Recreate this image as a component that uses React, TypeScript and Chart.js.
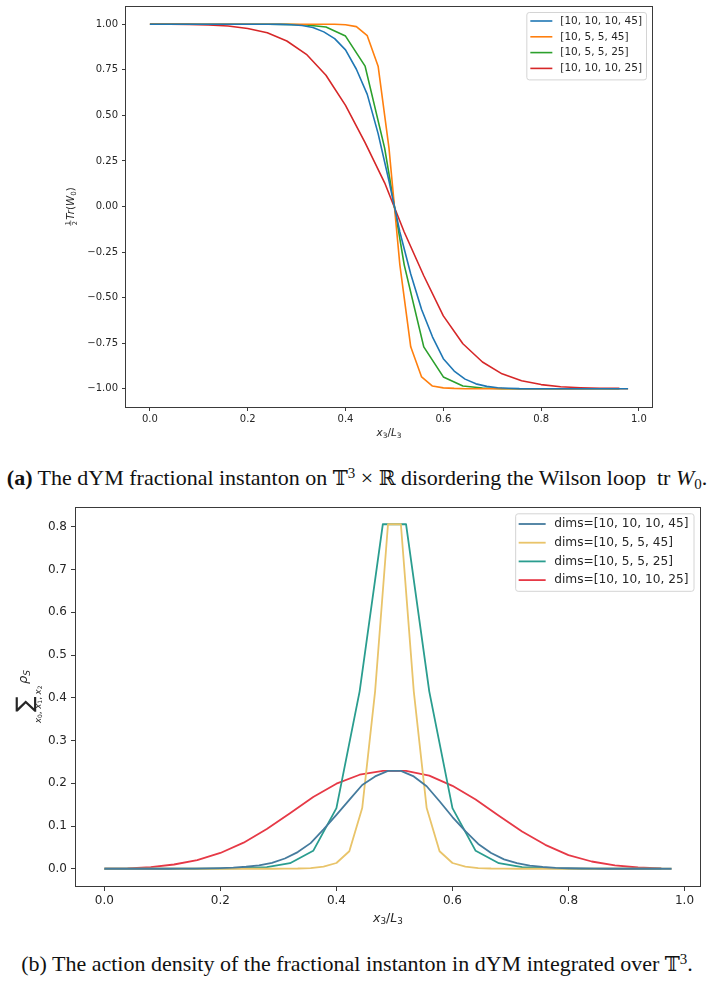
import React, { useEffect, useRef } from 'react';
import { Chart, registerables } from 'chart.js';

Chart.register(...registerables);

// ---------------- Panel (a): 1/2 Tr(W0) along x3/L3 ----------------
const labelsA = ['[10, 10, 10, 45]', '[10, 5, 5, 45]', '[10, 5, 5, 25]', '[10, 10, 10, 25]'];
const colorsA = ['#1f77b4', '#ff7f0e', '#2ca02c', '#d62728'];
const latticeL3A = [45, 45, 25, 25];

const wilson_10_10_10_45 = [
  1, 1, 1, 1, 1, 1, 1, 1, 1, 1,
  0.9998, 0.9995, 0.999, 0.997, 0.993, 0.982, 0.958, 0.921, 0.859, 0.753,
  0.615, 0.4, 0.14, -0.14, -0.37, -0.565, -0.715, -0.835, -0.903, -0.947,
  -0.973, -0.987, -0.994, -0.997, -0.999, -0.9995, -1, -1, -1, -1,
  -1, -1, -1, -1, -1,
];
const wilson_10_5_5_45 = [
  1, 1, 1, 1, 1, 1, 1, 1, 1, 1,
  1, 1, 1, 1, 1, 1, 1, 0.9995, 0.997, 0.987,
  0.937, 0.77, 0.32, -0.32, -0.77, -0.935, -0.985, -0.995, -0.998, -0.9995,
  -1, -1, -1, -1, -1, -1, -1, -1, -1, -1,
  -1, -1, -1, -1, -1,
];
const wilson_10_5_5_25 = [
  1, 1, 1, 1, 1, 1, 0.9995, 0.999, 0.996, 0.985,
  0.935, 0.77, 0.32, -0.32, -0.77, -0.935, -0.985, -0.996, -0.999, -0.9995,
  -1, -1, -1, -1, -1,
];
const wilson_10_10_10_25 = [
  1, 0.9999, 0.999, 0.996, 0.99, 0.977, 0.953, 0.908, 0.835, 0.72,
  0.555, 0.35, 0.13, -0.14, -0.38, -0.6, -0.753, -0.853, -0.918, -0.956,
  -0.977, -0.989, -0.994, -0.997, -0.998,
];
const seriesA = [wilson_10_10_10_45, wilson_10_5_5_45, wilson_10_5_5_25, wilson_10_10_10_25];
const yTicksA = [-1, -0.75, -0.5, -0.25, 0, 0.25, 0.5, 0.75, 1];

// ---------------- Panel (b): action density summed over x0,x1,x2 ----------------
const labelsB = ['dims=[10, 10, 10, 45]', 'dims=[10, 5, 5, 45]', 'dims=[10, 5, 5, 25]', 'dims=[10, 10, 10, 25]'];
const colorsB = ['#457b9d', '#e9c46a', '#2a9d8f', '#e63946'];
const latticeL3B = [45, 45, 25, 25];

const density_10_10_10_45 = [
  0, 0, 0, 0, 0, 0.0001, 0.0002, 0.0004, 0.0008, 0.0015,
  0.0027, 0.0047, 0.008, 0.014, 0.024, 0.039, 0.06, 0.092, 0.126, 0.161,
  0.196, 0.216, 0.229, 0.229, 0.216, 0.193, 0.158, 0.121, 0.088, 0.058,
  0.037, 0.022, 0.013, 0.0075, 0.0042, 0.0023, 0.0012, 0.0006, 0.0003, 0.0001,
  0, 0, 0, 0, 0,
];
const density_10_5_5_45 = [
  0, 0, 0, 0, 0, 0, 0, 0, 0, 0,
  0, 0, 0, 0, 0.0002, 0.0006, 0.0017, 0.005, 0.0135, 0.041,
  0.142, 0.415, 0.806, 0.806, 0.415, 0.142, 0.041, 0.0135, 0.005, 0.0017,
  0.0006, 0.0002, 0, 0, 0, 0, 0, 0, 0, 0,
  0, 0, 0, 0, 0,
];
const density_10_5_5_25 = [
  0, 0, 0, 0, 0.0001, 0.0004, 0.0013, 0.004, 0.013, 0.042,
  0.142, 0.415, 0.806, 0.806, 0.415, 0.142, 0.042, 0.013, 0.004, 0.0013,
  0.0004, 0.0001, 0, 0, 0,
];
const density_10_10_10_25 = [
  0.0003, 0.001, 0.004, 0.01, 0.02, 0.037, 0.061, 0.093, 0.13, 0.168,
  0.199, 0.22, 0.229, 0.229, 0.218, 0.194, 0.162, 0.124, 0.087, 0.056,
  0.032, 0.017, 0.008, 0.003, 0.001,
];
const seriesB = [density_10_10_10_45, density_10_5_5_45, density_10_5_5_25, density_10_10_10_25];
const yTicksB = [0, 0.1, 0.2, 0.3, 0.4, 0.5, 0.6, 0.7, 0.8];

const xTicks = [0, 0.2, 0.4, 0.6, 0.8, 1.0];

// ---------------- drawing helpers ----------------
const FONT = '"DejaVu Sans", sans-serif';
const INK = '#262626';
const FRAME = '#3a3a3a';

type Piece = { t: string; s: number; it?: boolean; rise?: number; gap?: number };

const fontOf = (p: Piece) => `${p.it ? 'italic ' : ''}${p.s}px ${FONT}`;

function measurePieces(ctx: CanvasRenderingContext2D, pieces: Piece[]) {
  let w = 0;
  for (const p of pieces) {
    ctx.font = fontOf(p);
    w += ctx.measureText(p.t).width + (p.gap || 0);
  }
  return w;
}

function drawPieces(ctx: CanvasRenderingContext2D, pieces: Piece[], x: number, y: number) {
  let cx = x;
  for (const p of pieces) {
    ctx.font = fontOf(p);
    ctx.fillText(p.t, cx, y - (p.rise || 0));
    cx += ctx.measureText(p.t).width + (p.gap || 0);
  }
  return cx;
}

const fmt = (v: number, d: number) => {
  const s = Math.abs(v) < 1e-9 ? (0).toFixed(d) : v.toFixed(d);
  return s.replace('-', '\u2212');
};

type LegendSpec = {
  fontSize: number; right: number; top: number; padL: number; handle: number; gap: number;
  padR: number; padT: number; rowH: number; padB: number;
};

type Panel = {
  labels: string[]; colors: string[]; L3: number[]; series: number[][];
  xMin: number; xMax: number; yMin: number; yMax: number; yTicks: number[]; yDec: number;
  tickFont: number; tickLen: number; yTickPad: number; xTickPad: number;
  padding: { left: number; top: number; right: number; bottom: number };
  yAxisWidth: number; xAxisHeight: number; lineWidth: number;
  legend: LegendSpec;
  xTitle: { pieces: Piece[]; baselineOffset: number };
  drawYTitle: (ctx: CanvasRenderingContext2D, area: any) => void;
};

function buildConfig(p: Panel): any {
  const decor = {
    id: 'decor',
    afterDraw(chart: any) {
      const { ctx, chartArea: a } = chart;
      ctx.save();
      // axes frame
      ctx.strokeStyle = FRAME;
      ctx.lineWidth = 1;
      const l = Math.floor(a.left) - 0.5, t = Math.floor(a.top) + 0.5;
      const r = Math.floor(a.right) + 0.5, b = Math.floor(a.bottom) + 0.5;
      ctx.strokeRect(l, t, r - l, b - t);

      // legend (matplotlib style box inside upper right)
      const L = p.legend;
      ctx.font = `${L.fontSize}px ${FONT}`;
      const dsets = chart.data.datasets;
      const tw = Math.max(...dsets.map((d: any) => ctx.measureText(d.label).width));
      const w = L.padL + L.handle + L.gap + tw + L.padR;
      const h = L.padT + L.rowH * (dsets.length - 1) + L.padB;
      const x0 = a.right - L.right - w;
      const y0 = a.top + L.top;
      ctx.beginPath();
      if ((ctx as any).roundRect) (ctx as any).roundRect(x0 + 0.5, y0 + 0.5, w, h, 2.5);
      else ctx.rect(x0 + 0.5, y0 + 0.5, w, h);
      ctx.fillStyle = 'rgba(255,255,255,0.85)';
      ctx.fill();
      ctx.strokeStyle = '#d4d4d4';
      ctx.lineWidth = 1;
      ctx.stroke();
      dsets.forEach((d: any, i: number) => {
        const cy = y0 + L.padT + i * L.rowH;
        ctx.beginPath();
        ctx.strokeStyle = d.borderColor;
        ctx.lineWidth = d.borderWidth;
        ctx.moveTo(x0 + L.padL, cy);
        ctx.lineTo(x0 + L.padL + L.handle, cy);
        ctx.stroke();
        ctx.fillStyle = INK;
        ctx.textBaseline = 'middle';
        ctx.textAlign = 'left';
        ctx.font = `${L.fontSize}px ${FONT}`;
        ctx.fillText(d.label, x0 + L.padL + L.handle + L.gap, cy);
      });

      // x axis title
      ctx.fillStyle = INK;
      ctx.textBaseline = 'alphabetic';
      ctx.textAlign = 'left';
      const xw = measurePieces(ctx, p.xTitle.pieces);
      drawPieces(ctx, p.xTitle.pieces, (a.left + a.right) / 2 - xw / 2, a.bottom + p.xTitle.baselineOffset);

      // y axis title
      p.drawYTitle(ctx, a);
      ctx.restore();
    },
  };

  return {
    type: 'line',
    data: {
      datasets: p.series.map((vals, k) => ({
        label: p.labels[k],
        data: vals.map((v, i) => ({ x: i / p.L3[k], y: v })),
        borderColor: p.colors[k],
        backgroundColor: p.colors[k],
        borderWidth: p.lineWidth,
        pointRadius: 0,
        pointHoverRadius: 0,
        tension: 0,
        fill: false,
        borderJoinStyle: 'round',
      })),
    },
    options: {
      responsive: false,
      animation: false,
      devicePixelRatio: 1,
      events: [],
      layout: { padding: p.padding },
      plugins: { legend: { display: false }, tooltip: { enabled: false }, title: { display: false } },
      scales: {
        x: {
          type: 'linear',
          position: 'bottom',
          min: p.xMin,
          max: p.xMax,
          afterBuildTicks: (s: any) => { s.ticks = xTicks.map((v) => ({ value: v })); },
          afterFit: (s: any) => { s.height = p.xAxisHeight; s.paddingLeft = 0; s.paddingRight = 0; },
          ticks: {
            callback: (v: number) => fmt(v, 1),
            font: { family: FONT, size: p.tickFont },
            color: INK,
            padding: p.xTickPad,
            maxRotation: 0,
            autoSkip: false,
          },
          grid: { drawOnChartArea: false, drawTicks: true, tickLength: p.tickLen, color: FRAME, lineWidth: 1 },
          border: { display: false },
        },
        y: {
          type: 'linear',
          position: 'left',
          min: p.yMin,
          max: p.yMax,
          afterBuildTicks: (s: any) => { s.ticks = p.yTicks.map((v) => ({ value: v })); },
          afterFit: (s: any) => { s.width = p.yAxisWidth; s.paddingTop = 0; s.paddingBottom = 0; },
          ticks: {
            callback: (v: number) => fmt(v, p.yDec),
            font: { family: FONT, size: p.tickFont },
            color: INK,
            padding: p.yTickPad,
            autoSkip: false,
          },
          grid: { drawOnChartArea: false, drawTicks: true, tickLength: p.tickLen, color: FRAME, lineWidth: 1 },
          border: { display: false },
        },
      },
    },
    plugins: [decor],
  };
}

// y-axis title of panel (a): 1/2 Tr(W_0), rotated
function drawYTitleA(ctx: CanvasRenderingContext2D, a: any) {
  ctx.save();
  ctx.translate(74, (a.top + a.bottom) / 2);
  ctx.rotate(-Math.PI / 2);
  ctx.fillStyle = INK;
  ctx.textBaseline = 'alphabetic';
  const fs = 6.6;
  ctx.font = `${fs}px ${FONT}`;
  const w1 = ctx.measureText('1').width;
  const w2 = ctx.measureText('2').width;
  const fw = Math.max(w1, w2) + 1.2;
  const rest: Piece[] = [
    { t: 'Tr', s: 10.3, it: true },
    { t: '(', s: 10.3 },
    { t: 'W', s: 10.3, it: true },
    { t: '0', s: 7.2, rise: -1.6 },
    { t: ')', s: 10.3 },
  ];
  const total = fw + 0.8 + measurePieces(ctx, rest);
  const x = -total / 2;
  ctx.font = `${fs}px ${FONT}`;
  ctx.fillText('1', x + (fw - w1) / 2, -4.5);
  ctx.fillRect(x, -3.5, fw, 0.6);
  ctx.fillText('2', x + (fw - w2) / 2, 2.5);
  drawPieces(ctx, rest, x + fw + 0.8, 0);
  ctx.restore();
}

// y-axis title of panel (b): sum over x0,x1,x2 of rho_S, rotated
function drawYTitleB(ctx: CanvasRenderingContext2D, a: any) {
  ctx.save();
  ctx.translate(27, (a.top + a.bottom) / 2);
  ctx.rotate(-Math.PI / 2);
  ctx.fillStyle = INK;
  ctx.textBaseline = 'alphabetic';
  const sigma: Piece[] = [{ t: '\u2211', s: 23 }];
  const limits: Piece[] = [
    { t: 'x', s: 8.6, it: true }, { t: '0', s: 6, rise: -1.1 }, { t: ', ', s: 8.6 },
    { t: 'x', s: 8.6, it: true }, { t: '1', s: 6, rise: -1.1 }, { t: ', ', s: 8.6 },
    { t: 'x', s: 8.6, it: true }, { t: '2', s: 6, rise: -1.1 },
  ];
  const rho: Piece[] = [{ t: '\u03c1', s: 13, it: true }, { t: 'S', s: 9.2, it: true, rise: -2.7 }];
  const sw = measurePieces(ctx, sigma);
  const lw = measurePieces(ctx, limits);
  const gw = Math.max(sw, lw);
  const rw = measurePieces(ctx, rho);
  const total = gw + 1.5 + rw;
  const x0 = -total / 2;
  drawPieces(ctx, sigma, x0 + (gw - sw) / 2, 5);
  drawPieces(ctx, limits, x0 + (gw - lw) / 2, 13.5);
  drawPieces(ctx, rho, x0 + gw + 1.5, 0);
  ctx.restore();
}

const panelA: Panel = {
  labels: labelsA, colors: colorsA, L3: latticeL3A, series: seriesA,
  xMin: -0.0489, xMax: 1.0267, yMin: -1.1, yMax: 1.1, yTicks: yTicksA, yDec: 2,
  tickFont: 10, tickLen: 4, yTickPad: 4, xTickPad: 2,
  padding: { left: 0, top: 6, right: 62, bottom: 0 },
  yAxisWidth: 126, xAxisHeight: 38, lineWidth: 1.6,
  legend: { fontSize: 10.5, right: 6, top: 6, padL: 4, handle: 22, gap: 8, padR: 4, padT: 9, rowH: 15.8, padB: 11 },
  xTitle: {
    pieces: [
      { t: 'x', s: 10.5, it: true }, { t: '3', s: 7.4, rise: -1.8 }, { t: '/', s: 10.5 },
      { t: 'L', s: 10.5, it: true }, { t: '3', s: 7.4, rise: -1.8 },
    ],
    baselineOffset: 29,
  },
  drawYTitle: drawYTitleA,
};

const panelB: Panel = {
  labels: labelsB, colors: colorsB, L3: latticeL3B, series: seriesB,
  xMin: -0.0489, xMax: 1.0267, yMin: -0.0403, yMax: 0.8463, yTicks: yTicksB, yDec: 1,
  tickFont: 12, tickLen: 5, yTickPad: 4, xTickPad: 3,
  padding: { left: 0, top: 7, right: 14, bottom: 0 },
  yAxisWidth: 76, xAxisHeight: 59, lineWidth: 1.8,
  legend: { fontSize: 12.2, right: 6.5, top: 6.3, padL: 3.5, handle: 27, gap: 8.5, padR: 5, padT: 10.7, rowH: 18.7, padB: 10.7 },
  xTitle: {
    pieces: [
      { t: 'x', s: 12.5, it: true }, { t: '3', s: 8.8, rise: -2.1 }, { t: '/', s: 12.5 },
      { t: 'L', s: 12.5, it: true }, { t: '3', s: 8.8, rise: -2.1 },
    ],
    baselineOffset: 36,
  },
  drawYTitle: drawYTitleB,
};

const capStyle: React.CSSProperties = {
  position: 'absolute',
  left: 0,
  width: 714,
  textAlign: 'center',
  fontFamily: '"Liberation Serif", "Times New Roman", serif',
  fontSize: 22,
  lineHeight: '24px',
  color: '#111',
  whiteSpace: 'nowrap',
};
const bbStyle: React.CSSProperties = { fontFamily: '"DejaVu Serif", "DejaVu Sans", serif', fontSize: '0.92em' };
const supStyle: React.CSSProperties = { fontSize: '0.68em', verticalAlign: '0.5em', lineHeight: 0 };
const subStyle: React.CSSProperties = { fontSize: '0.68em', verticalAlign: '-0.25em', lineHeight: 0 };

export default function App() {
  const refA = useRef<HTMLCanvasElement>(null);
  const refB = useRef<HTMLCanvasElement>(null);

  useEffect(() => {
    const ca = new Chart(refA.current as HTMLCanvasElement, buildConfig(panelA));
    const cb = new Chart(refB.current as HTMLCanvasElement, buildConfig(panelB));
    return () => {
      ca.destroy();
      cb.destroy();
    };
  }, []);

  return (
    <div style={{ position: 'absolute', left: 0, top: 0, width: 714, height: 1005, background: '#fff', overflow: 'hidden' }}>
      <canvas ref={refA} width={714} height={445} style={{ position: 'absolute', left: 0, top: 0, width: 714, height: 445 }} />
      <div style={{ ...capStyle, top: 466 }}>
        <b>(a)</b> The dYM fractional instanton on <span style={bbStyle}>𝕋</span>
        <span style={supStyle}>3</span> × <span style={bbStyle}>ℝ</span> disordering the Wilson loop&nbsp; tr <i>W</i>
        <span style={subStyle}>0</span>.
      </div>
      <canvas ref={refB} width={714} height={445} style={{ position: 'absolute', left: 0, top: 500, width: 714, height: 445 }} />
      <div style={{ ...capStyle, top: 952 }}>
        (b) The action density of the fractional instanton in dYM integrated over <span style={bbStyle}>𝕋</span>
        <span style={supStyle}>3</span>.
      </div>
    </div>
  );
}
